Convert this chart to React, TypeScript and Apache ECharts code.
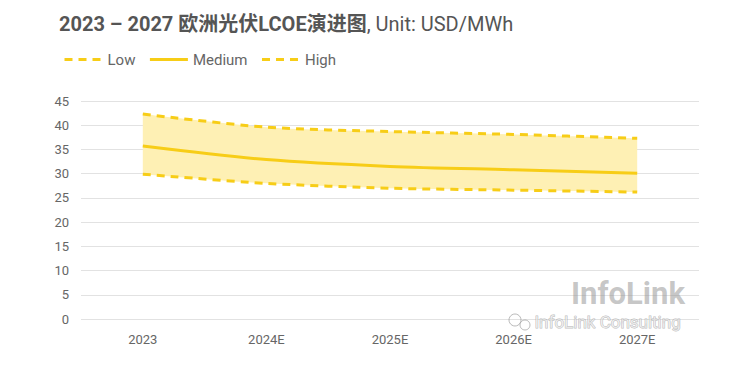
import React, { useEffect, useRef } from "react";
import * as echarts from "echarts";

const categories = ["2023", "2024E", "2025E", "2026E", "2027E"];
const lowValues = [29.9, 28.0, 27.0, 26.6, 26.2];
const mediumValues = [35.7, 32.9, 31.5, 30.8, 30.1];
const highValues = [42.3, 39.6, 38.7, 38.1, 37.3];
const yTicks = [0, 5, 10, 15, 20, 25, 30, 35, 40, 45];

const LINE = "#F7CD17";
const FILL = "#FEF0B4";
const FONT = "Roboto, 'Noto Sans', 'Noto Sans CJK SC', sans-serif";

export default function App() {
  const ref = useRef<HTMLDivElement>(null);
  useEffect(() => {
    if (!ref.current) return;
    const chart = echarts.init(ref.current, undefined, { renderer: "svg" });
    const bandDiff = highValues.map((h, i) => +(h - lowValues[i]).toFixed(2));
    chart.setOption({
      animation: false,
      backgroundColor: "#ffffff",
      textStyle: { fontFamily: FONT },
      title: {
        left: 54,
        top: 9,
        text: "{b|2023 – 2027 欧洲光伏LCOE演进图}{n|, Unit: USD/MWh}",
        textStyle: {
          rich: {
            b: { fontSize: 20, fontWeight: "bold", color: "#555555", fontFamily: FONT },
            n: { fontSize: 20, fontWeight: "normal", color: "#555555", fontFamily: FONT },
          },
        },
      },
      legend: {
        left: 58,
        top: 47,
        itemWidth: 38,
        itemHeight: 10,
        itemGap: 13,
        itemStyle: { color: "rgba(0,0,0,0)", borderWidth: 0, borderColor: "rgba(0,0,0,0)" },
        lineStyle: { color: LINE, width: 3, opacity: 1 },
        textStyle: { color: "#666666", fontSize: 15, fontFamily: FONT },
        data: ["Low", "Medium", "High"],
      },
      grid: { left: 81, right: 47, top: 101, bottom: 71, containLabel: false },
      xAxis: {
        type: "category",
        data: categories,
        boundaryGap: true,
        axisLine: { show: false },
        axisTick: { show: false },
        axisLabel: { color: "#666666", fontSize: 13, margin: 14, fontFamily: FONT },
      },
      yAxis: {
        type: "value",
        min: 0,
        max: 45,
        interval: 5,
        axisLine: { show: false },
        axisTick: { show: false },
        axisLabel: {
          color: "#666666",
          fontSize: 13,
          margin: 12,
          fontFamily: FONT,
          formatter: (v: number) => (yTicks.includes(v) ? String(v) : ""),
        },
        splitLine: { lineStyle: { color: "#E2E2E2", width: 1 } },
      },
      series: [
        {
          name: "bandBase",
          type: "line",
          stack: "band",
          data: lowValues,
          smooth: 0.3,
          symbol: "none",
          lineStyle: { opacity: 0 },
          silent: true,
          z: 1,
        },
        {
          name: "band",
          type: "line",
          stack: "band",
          data: bandDiff,
          smooth: 0.3,
          symbol: "none",
          lineStyle: { opacity: 0 },
          areaStyle: { color: FILL, opacity: 1 },
          silent: true,
          z: 1,
        },
        {
          name: "Low",
          type: "line",
          data: lowValues,
          smooth: 0.3,
          symbol: "none",
          itemStyle: { color: LINE },
          lineStyle: { color: LINE, width: 3, type: [8, 6] },
          z: 3,
        },
        {
          name: "Medium",
          type: "line",
          data: mediumValues,
          smooth: 0.3,
          symbol: "none",
          itemStyle: { color: LINE },
          lineStyle: { color: LINE, width: 3 },
          z: 3,
        },
        {
          name: "High",
          type: "line",
          data: highValues,
          smooth: 0.3,
          symbol: "none",
          itemStyle: { color: LINE },
          lineStyle: { color: LINE, width: 3, type: [8, 6] },
          z: 3,
        },
      ],
      graphic: [
        {
          type: "text",
          left: 571,
          top: 278,
          z: 10,
          style: {
            text: "InfoLink",
            fill: "rgba(150,150,150,0.55)",
            font: "bold 31px Roboto, sans-serif",
          },
        },
        {
          type: "text",
          left: 534,
          top: 313,
          z: 10,
          style: {
            text: "InfoLink Consulting",
            fill: "rgba(255,255,255,0.6)",
            stroke: "rgba(140,140,140,0.6)",
            lineWidth: 1,
            font: "17px Roboto, sans-serif",
          },
        },
        {
          type: "circle",
          shape: { cx: 515, cy: 320, r: 6 },
          z: 10,
          style: { fill: "none", stroke: "rgba(140,140,140,0.6)", lineWidth: 1 },
        },
        {
          type: "circle",
          shape: { cx: 525, cy: 325, r: 5 },
          z: 10,
          style: { fill: "rgba(255,255,255,0.6)", stroke: "rgba(140,140,140,0.6)", lineWidth: 1 },
        },
      ],
    });
    return () => chart.dispose();
  }, []);
  return <div ref={ref} style={{ width: 746, height: 390, marginLeft: -8, marginTop: -8 }} />;
}
